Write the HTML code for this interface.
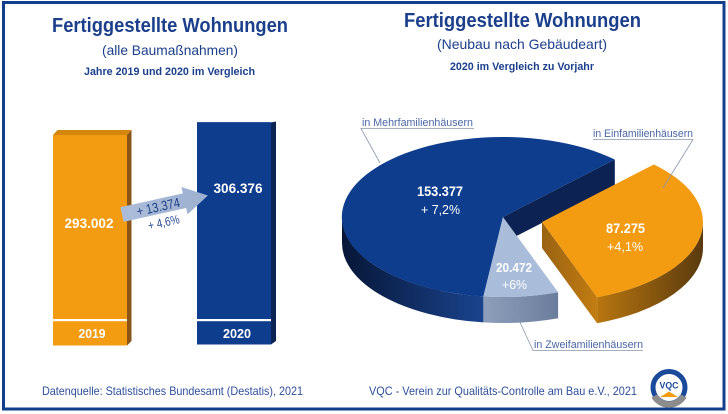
<!DOCTYPE html>
<html><head><meta charset="utf-8"><style>
html,body{margin:0;padding:0;background:#fff;}
svg{display:block;}
text{font-family:"Liberation Sans",sans-serif;}
</style></head><body>
<svg width="728" height="414" viewBox="0 0 728 414" xmlns="http://www.w3.org/2000/svg">
<defs>
<linearGradient id="gBlueSide" x1="342" y1="0" x2="484" y2="0" gradientUnits="userSpaceOnUse">
<stop offset="0" stop-color="#071637"/><stop offset="1" stop-color="#1a448e"/></linearGradient>
<linearGradient id="gLightSide" x1="483" y1="0" x2="558" y2="0" gradientUnits="userSpaceOnUse">
<stop offset="0" stop-color="#8e9fbb"/><stop offset="1" stop-color="#6b7d9c"/></linearGradient>
<linearGradient id="gOrSide" x1="597" y1="0" x2="703" y2="0" gradientUnits="userSpaceOnUse">
<stop offset="0" stop-color="#b8760f"/><stop offset="1" stop-color="#5a3a0e"/></linearGradient>
<linearGradient id="gOrCut" x1="542" y1="0" x2="597" y2="0" gradientUnits="userSpaceOnUse">
<stop offset="0" stop-color="#9a6212"/><stop offset="1" stop-color="#c27d12"/></linearGradient>
<linearGradient id="gArrow" x1="0" y1="0" x2="1" y2="0">
<stop offset="0" stop-color="#abbdd9"/><stop offset="1" stop-color="#9db0d0"/></linearGradient>
</defs>

<rect x="3.5" y="2.5" width="720.5" height="406.5" fill="#fff" stroke="#123f8c" stroke-width="3"/>

<text x="170" y="32" text-anchor="middle" font-size="20" font-weight="bold" fill="#1b3f8b" textLength="236" lengthAdjust="spacingAndGlyphs">Fertiggestellte Wohnungen</text>
<text x="170" y="55" text-anchor="middle" font-size="14" fill="#1b3f8b" textLength="136" lengthAdjust="spacingAndGlyphs">(alle Baumaßnahmen)</text>
<text x="169.5" y="75" text-anchor="middle" font-size="11" font-weight="bold" fill="#1b3f8b" textLength="171" lengthAdjust="spacingAndGlyphs">Jahre 2019 und 2020 im Vergleich</text>

<text x="522.5" y="27" text-anchor="middle" font-size="20" font-weight="bold" fill="#1b3f8b" textLength="237" lengthAdjust="spacingAndGlyphs">Fertiggestellte Wohnungen</text>
<text x="522" y="49" text-anchor="middle" font-size="14" fill="#1b3f8b" textLength="170" lengthAdjust="spacingAndGlyphs">(Neubau nach Gebäudeart)</text>
<text x="522" y="70" text-anchor="middle" font-size="11" font-weight="bold" fill="#1b3f8b" textLength="144" lengthAdjust="spacingAndGlyphs">2020 im Vergleich zu Vorjahr</text>

<polygon points="53,135 57.5,130 131.5,130 127,135" fill="#d4870c"/>
<polygon points="127,135 131.5,130 131.5,341 127,345.5" fill="#8a5517"/>
<rect x="53" y="135" width="74" height="210.5" fill="#f39c12"/>
<rect x="53" y="319" width="74" height="2.2" fill="#fff"/>
<text x="89" y="228" text-anchor="middle" font-size="14" font-weight="bold" fill="#fff" textLength="49" lengthAdjust="spacingAndGlyphs">293.002</text>
<text x="92" y="338" text-anchor="middle" font-size="13" font-weight="bold" fill="#fff" textLength="27" lengthAdjust="spacingAndGlyphs">2019</text>

<polygon points="271,122.5 276,121.5 276,341 271,344.5" fill="#0b2453"/>
<rect x="197" y="122" width="74" height="222.5" fill="#0e3d8e"/>
<rect x="197" y="122" width="74" height="1" fill="#2a559f"/>
<rect x="197" y="319" width="74" height="2.2" fill="#fff"/>
<text x="238" y="193" text-anchor="middle" font-size="14" font-weight="bold" fill="#fff" textLength="49" lengthAdjust="spacingAndGlyphs">306.376</text>
<text x="237" y="338" text-anchor="middle" font-size="13" font-weight="bold" fill="#fff" textLength="28" lengthAdjust="spacingAndGlyphs">2020</text>

<g transform="translate(122,214.5) rotate(-12.5)">
<polygon points="0,-7.5 64,-7.5 64,-14 88,0 64,14 64,7.5 0,7.5" fill="url(#gArrow)"/>
<text x="37" y="5" text-anchor="middle" font-size="13.5" fill="#1e3f85" textLength="44" lengthAdjust="spacingAndGlyphs">+ 13.374</text>
<text x="39" y="21" text-anchor="middle" font-size="12.5" fill="#2a4b95" textLength="32" lengthAdjust="spacingAndGlyphs">+ 4,6%</text>
</g>

<path d="M483.4,296.4 A161,80 0 0 1 342,217 L342,243 A161,80 0 0 0 483.4,322.4 Z" fill="url(#gBlueSide)"/>
<polygon points="503,217 614.8,159.5 614.8,185.5 503,243" fill="#0b2252"/>
<path d="M503,217 L614.8,159.5 A161,80 0 1 0 483.4,296.4 Z" fill="#0e3d8e"/>
<path d="M558.1,292.2 A161,80 0 0 1 483.4,296.4 L483.4,322.4 A161,80 0 0 0 558.1,318.2 Z" fill="url(#gLightSide)"/>
<path d="M503,217 L558.1,292.2 A161,80 0 0 1 483.4,296.4 Z" fill="#a9bcda"/>
<path d="M703,222 A161,80 0 0 1 597.1,297.2 L597.1,323.2 A161,80 0 0 0 703,248 Z" fill="url(#gOrSide)"/>
<polygon points="542,222 597.1,297.2 597.1,323.2 542,248" fill="url(#gOrCut)"/>
<path d="M542,222 L653.8,164.5 A161,80 0 0 1 597.1,297.2 Z" fill="#f39c12"/>

<text x="440" y="196" text-anchor="middle" font-size="14" font-weight="bold" fill="#fff" textLength="46" lengthAdjust="spacingAndGlyphs">153.377</text>
<text x="440.5" y="214" text-anchor="middle" font-size="13" fill="#fff" textLength="39" lengthAdjust="spacingAndGlyphs">+ 7,2%</text>
<text x="625.5" y="233" text-anchor="middle" font-size="14" font-weight="bold" fill="#fff" textLength="39" lengthAdjust="spacingAndGlyphs">87.275</text>
<text x="625" y="251" text-anchor="middle" font-size="13" fill="#fff" textLength="36" lengthAdjust="spacingAndGlyphs">+4,1%</text>
<text x="514" y="272" text-anchor="middle" font-size="13" font-weight="bold" fill="#fff" textLength="36" lengthAdjust="spacingAndGlyphs">20.472</text>
<text x="514.5" y="289" text-anchor="middle" font-size="13" fill="#fff" textLength="25" lengthAdjust="spacingAndGlyphs">+6%</text>

<g stroke="#8a97ad" stroke-width="0.8" fill="none">
<polyline points="474,128.5 361,128.5 380,163"/>
<polyline points="593,139.5 693,139.5 663,188"/>
<polyline points="643,350.5 533,350.5 518,318"/>
</g>
<text x="362" y="126" font-size="11" fill="#4a66a5" textLength="111" lengthAdjust="spacingAndGlyphs">in Mehrfamilienhäusern</text>
<text x="593" y="137" font-size="11" fill="#4a66a5" textLength="100" lengthAdjust="spacingAndGlyphs">in Einfamilienhäusern</text>
<text x="534" y="348" font-size="11" fill="#4a66a5" textLength="109" lengthAdjust="spacingAndGlyphs">in Zweifamilienhäusern</text>

<text x="42" y="395" font-size="12" fill="#2f4f9a" textLength="261" lengthAdjust="spacingAndGlyphs">Datenquelle: Statistisches Bundesamt (Destatis), 2021</text>
<text x="369" y="395" font-size="12" fill="#2f4f9a" textLength="268" lengthAdjust="spacingAndGlyphs">VQC - Verein zur Qualitäts-Controlle am Bau e.V., 2021</text>

<circle cx="669" cy="387.5" r="16" fill="#fff" stroke="#1a4a9a" stroke-width="5"/>
<path d="M683.7,396 A17,17 0 0 1 654.3,396" fill="none" stroke="#8c8c8c" stroke-width="6.5"/>
<polygon points="660,397 669,391.5 678,397" fill="#f39c12"/>
<text x="669" y="388.5" text-anchor="middle" font-size="9.5" font-weight="bold" fill="#1a4a9a" textLength="19" lengthAdjust="spacingAndGlyphs">VQC</text>
</svg>
</body></html>
